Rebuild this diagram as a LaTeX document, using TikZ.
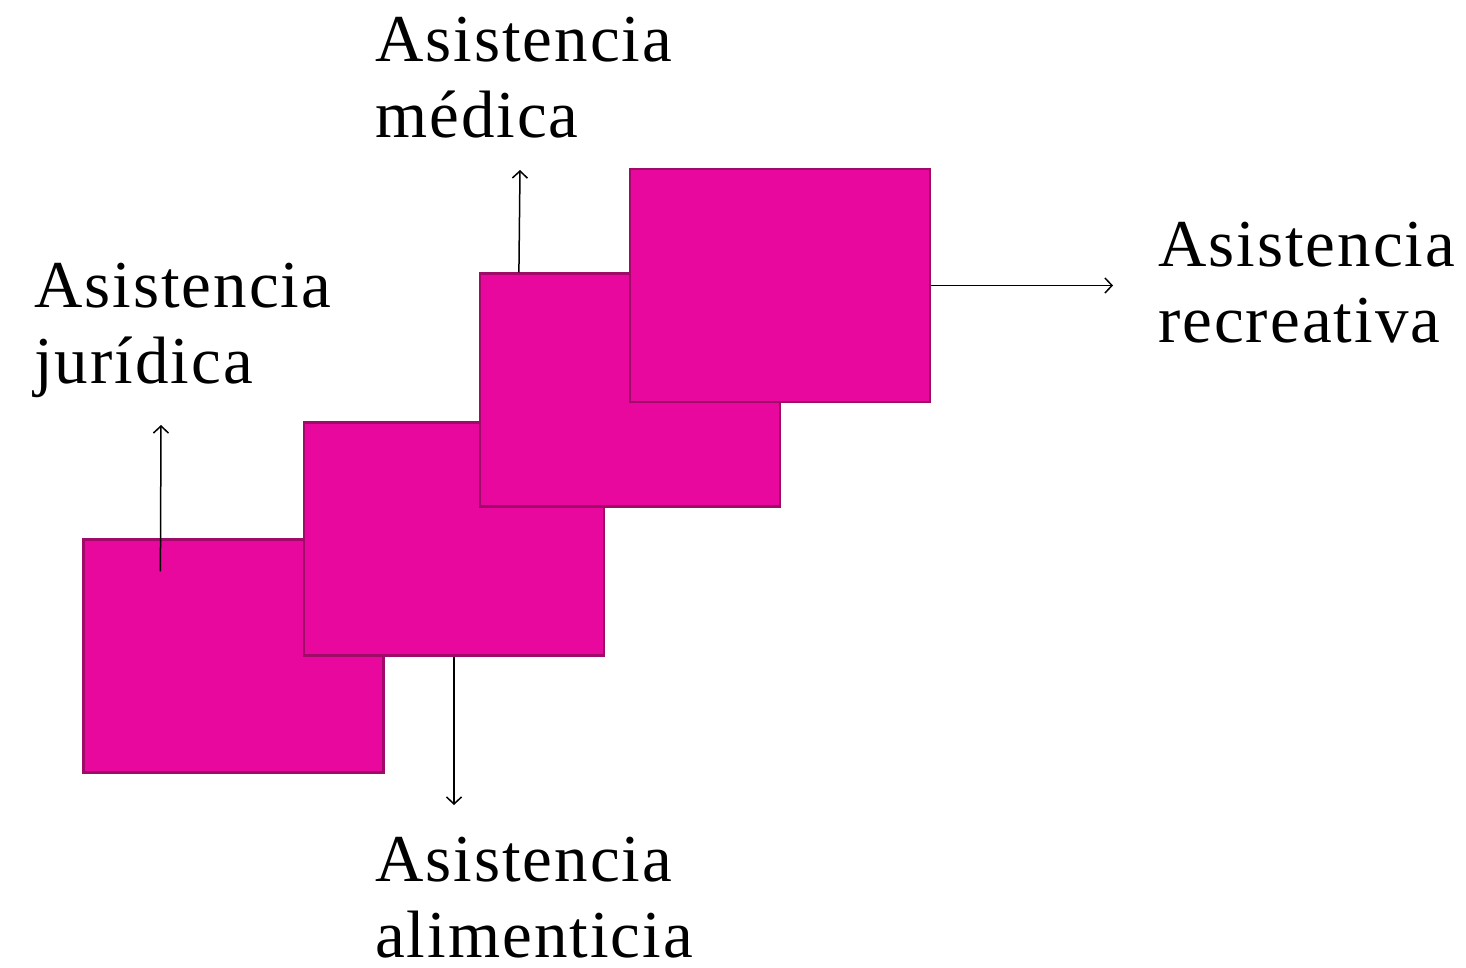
\documentclass[tikz,border=0pt]{standalone}
\usepackage{fontspec}
\setmainfont{Liberation Serif}[LetterSpace=3]
\definecolor{fuchsiafill}{RGB}{232, 8, 158}
\definecolor{fuchsiaedge}{RGB}{160, 10, 105}
\usetikzlibrary{arrows.meta, positioning, calc}

\tikzset{
  block/.style={draw=fuchsiaedge, fill=fuchsiafill, line width=2.2pt, minimum width=300pt, minimum height=233pt, inner sep=0pt},
  label/.style={anchor=north west, inner sep=0pt, align=left, font=\fontsize{67}{76}\selectfont},
  pointer/.style={line width=1.5pt, -{Straight Barb[length=7pt, width=15pt, line width=1.5pt]}}
}

\begin{document}
\begin{tikzpicture}[x=1pt, y=-1pt]
  \useasboundingbox (0,0) rectangle (1466,967);

  % the four steps, each one over the previous
  \node[block] (r1) at (233.5,656) {};
  \node[block] (r2) at (454,539) {};
  \node[block] (r3) at (630,390) {};
  \node[block] (r4) at (780,285.5) {};

  % labels
  \node[label] (juridica) at (34,263) {Asistencia\\jurídica};
  \node[label] (medica) at (375,17) {Asistencia\\médica};
  \node[label] (recreativa) at (1158,222) {Asistencia\\recreativa};
  \node[label] (alimenticia) at (375,837) {Asistencia\\alimenticia};

  % arrow ends
  \coordinate (jstart) at ($(r1.north west)+(78,33)$);
  \coordinate (jtip) at (161,425);
  \coordinate (mstart) at ($(r3.north west)+(40,0)$);
  \coordinate (mtip) at (520,170);
  \coordinate (atip) at (454,805);
  \coordinate (rtip) at (1113,285.5);

  \draw[pointer] (jstart) -- (jtip);
  \draw[pointer] (mstart) -- (mtip);
  \draw[pointer] (r2.south) -- (atip);
  \draw[pointer] (r4.east) -- (rtip);
\end{tikzpicture}
\end{document}
